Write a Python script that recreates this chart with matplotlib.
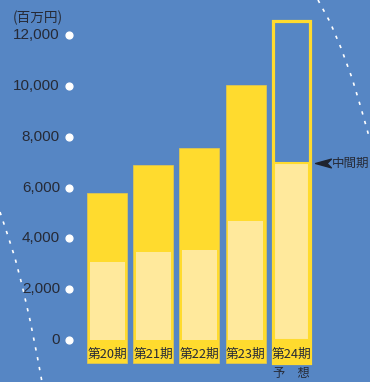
import matplotlib
matplotlib.use("Agg")
import matplotlib.pyplot as plt
import numpy as np
from matplotlib.patches import Rectangle
from matplotlib.path import Path

# data (million yen)
periods = ["第20期", "第21期", "第22期", "第23期", "第24期"]
totals = [5790, 6890, 7550, 10040, 12600]
interim = [3070, 3460, 3540, 4700, 6970]
yticks = [0, 2000, 4000, 6000, 8000, 10000, 12000]
forecast_note = "予　想"
interim_note = "中間期"
unit_label = "(百万円)"

BG = "#5686c4"
YELLOW = "#ffdb2e"
LIGHT = "#ffe99c"
TEXT = "#262a36"
CJK = ["Noto Sans CJK JP", "DejaVu Sans"]
NARROW = ["Liberation Sans Narrow", "Liberation Sans", "DejaVu Sans"]

W, H = 370, 382
fig = plt.figure(figsize=(W / 100, H / 100), dpi=100, facecolor=BG)
ax = fig.add_axes([0, 0, 1, 1])
ax.set_facecolor(BG)
ax.axis("off")

# pixel layout: value 0 at y=340px, 2000 per 50.8px; bar centres 107px + 46.2px step
px_per_unit = 50.8 / 2000
ax.set_ylim(-(H - 340) / px_per_unit, 340 / px_per_unit)
ax.set_xlim(-107 / 46.2, (W - 107) / 46.2)

label_bottom = -23 / px_per_unit
width = 40 / 46.2
inset = 2.5 / 46.2
x = np.arange(len(periods))

for i, (t, m) in enumerate(zip(totals, interim)):
    left = x[i] - width / 2
    if i < len(periods) - 1:
        ax.add_patch(Rectangle((left, label_bottom), width, t - label_bottom,
                               facecolor=YELLOW, edgecolor="#e9c94a", lw=0.5))
    else:
        ax.add_patch(Rectangle((left, label_bottom), width, -label_bottom,
                               facecolor=YELLOW, edgecolor="none"))
        lw_units = 1.5 / 46.2
        ax.add_patch(Rectangle((left + lw_units, label_bottom), width - 2 * lw_units,
                               t - label_bottom - 1.5 / px_per_unit,
                               facecolor="none", edgecolor=YELLOW, lw=2.3))
    ax.add_patch(Rectangle((left + inset, 0), width - 2 * inset, m,
                           facecolor=LIGHT, edgecolor=YELLOW if i == 4 else "none",
                           lw=1.5 if i == 4 else 0))
    ax.text(x[i], -14 / px_per_unit, periods[i], ha="center", va="center",
            fontsize=9.2, color=TEXT, family=CJK)

ax.text(x[-1], -33 / px_per_unit, forecast_note, ha="center", va="center",
        fontsize=8.8, color=TEXT, family=CJK)

# interim marker
arrow = Path([(-1, 0), (1, 0.55), (0.45, 0), (1, -0.55), (-1, 0)],
             [Path.MOVETO, Path.LINETO, Path.LINETO, Path.LINETO, Path.CLOSEPOLY])
ax.scatter([x[-1] + 31 / 46.2], [interim[-1]], marker=arrow, s=130,
           color="#1f2430", zorder=5)
ax.text(x[-1] + 40 / 46.2, interim[-1], interim_note, ha="left", va="center",
        fontsize=9, color=TEXT, family=CJK)

# y ticks: labels and white dots
tr = ax.get_yaxis_transform()
for v in yticks:
    ax.text(60 / W, v, f"{v:,}", transform=tr, ha="right", va="center",
            fontsize=11, color=TEXT, family=NARROW)
ax.scatter([69 / W] * len(yticks), yticks, transform=tr, s=24, color="white",
           zorder=5)
fig.text(13 / W, 1 - 18 / H, unit_label, ha="left", va="center",
         fontsize=9.8, color=TEXT, family=CJK)

# decorative dotted arcs
left_arc = np.array([(0, 212), (8, 236), (15, 258), (22, 285), (30, 320),
                     (37, 355), (42, 382)])
right_arc = np.array([(318, 0), (330, 22), (341, 48), (352, 78), (361, 108),
                      (370, 140)])
for arc in (left_arc, right_arc):
    fig.add_artist(plt.Line2D(arc[:, 0] / W, 1 - arc[:, 1] / H,
                              transform=fig.transFigure, color="white", lw=1.2,
                              linestyle=(0, (2, 4))))

fig.savefig("out.png", dpi=100, facecolor=BG)
